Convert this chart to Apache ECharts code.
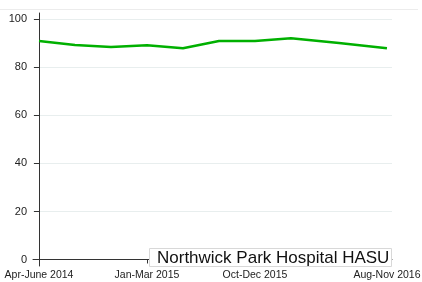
<!DOCTYPE html>
<html><head><meta charset="utf-8">
<script src="https://cdn.jsdelivr.net/npm/echarts@6/dist/echarts.min.js"></script>
<style>html,body{margin:0;padding:0;background:#fff}#c{width:422px;height:282px}</style>
</head><body><div id="c"></div>
<script>
// Period labels and their positions (months after Apr-June 2014 centre)
var periods = ["Apr-June 2014","Jul-Sep 2014","Oct-Dec 2014","Jan-Mar 2015","Apr-Jun 2015","Jul-Sep 2015","Oct-Dec 2015","Jan-Mar 2016","Apr-Jul 2016","Aug-Nov 2016"];
var monthPos = [0, 3, 6, 9, 12, 15, 18, 21, 25, 29];
var values = [91, 89.3, 88.5, 89.2, 88, 91, 91, 92.2, 90.2, 88];
var xTickPos = [0, 9, 18, 29];
var xTickLabels = ["Apr-June 2014", "Jan-Mar 2015", "Oct-Dec 2015", "Aug-Nov 2016"];
var yTicks = [0, 20, 40, 60, 80, 100];
var seriesName = "Northwick Park Hospital HASU";

var data = monthPos.map(function(m, i){ return [m, values[i]]; });
var font = "'Liberation Sans', Arial, sans-serif";
var chart = echarts.init(document.getElementById('c'));
chart.setOption({
  animation: false,
  backgroundColor: '#fff',
  grid: {left: 33, right: 30, top: 13, bottom: 16, containLabel: false, outerBoundsMode: 'none'},
  graphic: [{type: 'line', shape: {x1: 0, y1: 9.5, x2: 418, y2: 9.5}, style: {stroke: '#ececec', lineWidth: 1}, z: -1}],
  title: {
    text: seriesName, left: 149, top: 248,
    backgroundColor: '#fff', borderColor: '#d8d8d8', borderWidth: 1,
    padding: [1, 2, 0, 8],
    textStyle: {fontFamily: font, fontSize: 17, fontWeight: 'normal', color: '#111', lineHeight: 18},
    z: 10
  },
  xAxis: {
    type: 'value', min: -0.5, max: 29.42,
    axisLine: {show: true, lineStyle: {color: '#333', width: 1}},
    axisTick: {show: true, length: 4, customValues: xTickPos, lineStyle: {color: '#333'}},
    axisLabel: {customValues: xTickPos, fontFamily: font, fontSize: 10.5, color: '#222', margin: 4,
      hideOverlap: false,
      formatter: function(v){ var i = xTickPos.indexOf(v); return i >= 0 ? xTickLabels[i] : ''; }},
    splitLine: {show: false}
  },
  yAxis: {
    type: 'value', min: -2.71, max: 102.67,
    axisLine: {show: true, lineStyle: {color: '#333', width: 1}},
    axisTick: {show: true, length: 5, customValues: yTicks, lineStyle: {color: '#333'}},
    axisLabel: {customValues: yTicks, fontFamily: font, fontSize: 11, color: '#222', margin: 6},
    splitLine: {show: true, lineStyle: {color: '#e8eeee', width: 1}}
  },
  series: [{
    name: seriesName, type: 'line', data: data, showSymbol: false, symbol: 'none',
    lineStyle: {color: '#00b000', width: 2.5}, itemStyle: {color: '#00b000'}
  }]
});
</script></body></html>
